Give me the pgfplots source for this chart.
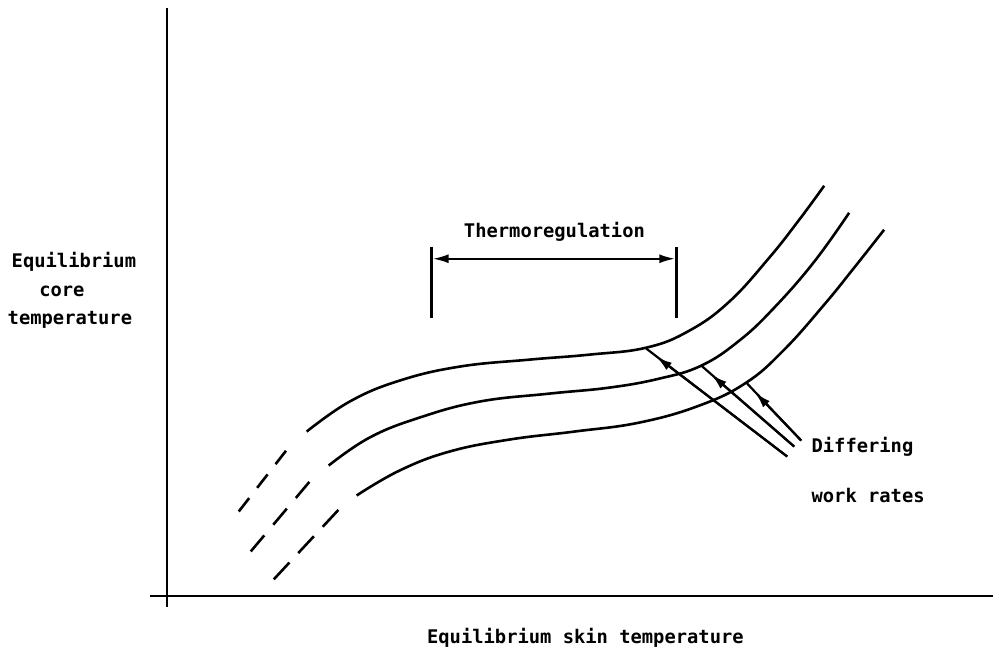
\documentclass[border=0pt]{standalone}
\usepackage{fontspec}
\usepackage{pgfplots}
\pgfplotsset{compat=1.18}
\usetikzlibrary{arrows.meta}
\newfontfamily\plotfont{DejaVu Sans Mono}
\begin{document}
\begin{tikzpicture}
\begin{axis}[
    width=497pt, height=328pt, scale only axis,
    xmin=0, xmax=994, ymin=0, ymax=656,
    y dir=reverse,
    hide axis, clip=false,
]
% page frame
\addplot[draw=none] coordinates {(0,0) (994,656)};

% axes
\addplot[black, line width=1pt] coordinates {(167,8) (167,608)};
\addplot[black, line width=1pt] coordinates {(150,597) (994,597)};

% three curves (one per work rate)
\addplot[black, line width=1.3pt, smooth, tension=0.7] coordinates {
    (307,432) (350,402) (400,381) (460,367) (530,360)
    (590,355) (647,348) (690,331) (730,302)
    (770,258) (800,220) (825,186)
};
\addplot[black, line width=1.3pt, smooth, tension=0.7] coordinates {
    (329,466) (370,438) (420,418) (480,402) (550,394)
    (610,388) (660,379) (702,366) (740,341)
    (775,308) (815,262) (850,213)
};
\addplot[black, line width=1.3pt, smooth, tension=0.7] coordinates {
    (357,496) (400,471) (450,452) (510,440) (575,432)
    (640,423) (700,406) (747,383) (785,350)
    (825,305) (855,268) (885,230)
};

% dashed extrapolations
\addplot[black, line width=1.3pt, dash pattern=on 8.5pt off 6.5pt] coordinates {(239,512) (288,449)};
\addplot[black, line width=1.3pt, dash pattern=on 10.5pt off 7pt] coordinates {(251,552) (310,482)};
\addplot[black, line width=1.3pt, dash pattern=on 11.5pt off 6.5pt] coordinates {(274,580) (341,508)};

% thermoregulation bracket
\addplot[black, line width=1.2pt] coordinates {(432,247) (432,318)};
\addplot[black, line width=1.2pt] coordinates {(677,247) (677,318)};
\addplot[black, line width=1.2pt, {Latex[length=8pt,width=4.5pt]}-{Latex[length=8pt,width=4.5pt]}]
    coordinates {(433,259) (676,259)};

% work-rate arrows
\addplot[black, line width=1.1pt] coordinates {(788,457) (647,349)};
\addplot[black, line width=1.1pt, -{Latex[length=8pt,width=4.5pt]}] coordinates {(788,457) (657,357)};
\addplot[black, line width=1.1pt] coordinates {(795,447) (702,366)};
\addplot[black, line width=1.1pt, -{Latex[length=8pt,width=4.5pt]}] coordinates {(795,447) (712,375)};
\addplot[black, line width=1.1pt] coordinates {(802,441) (747,383)};
\addplot[black, line width=1.1pt, -{Latex[length=8pt,width=4.5pt]}] coordinates {(802,441) (756,393)};

% labels
\tikzset{lab/.style={font=\plotfont\bfseries\fontsize{9.4}{11}\selectfont, inner sep=0pt}}
\node[lab] at (axis cs:74,262) {Equilibrium};
\node[lab] at (axis cs:62,292) {core};
\node[lab] at (axis cs:70,320) {temperature};
\node[lab] at (axis cs:555,232) {Thermoregulation};
\node[lab, anchor=west] at (axis cs:812,447) {Differing};
\node[lab, anchor=west] at (axis cs:812,496) {work rates};
\node[lab] at (axis cs:586,638) {Equilibrium skin temperature};
\end{axis}
\end{tikzpicture}
\end{document}
